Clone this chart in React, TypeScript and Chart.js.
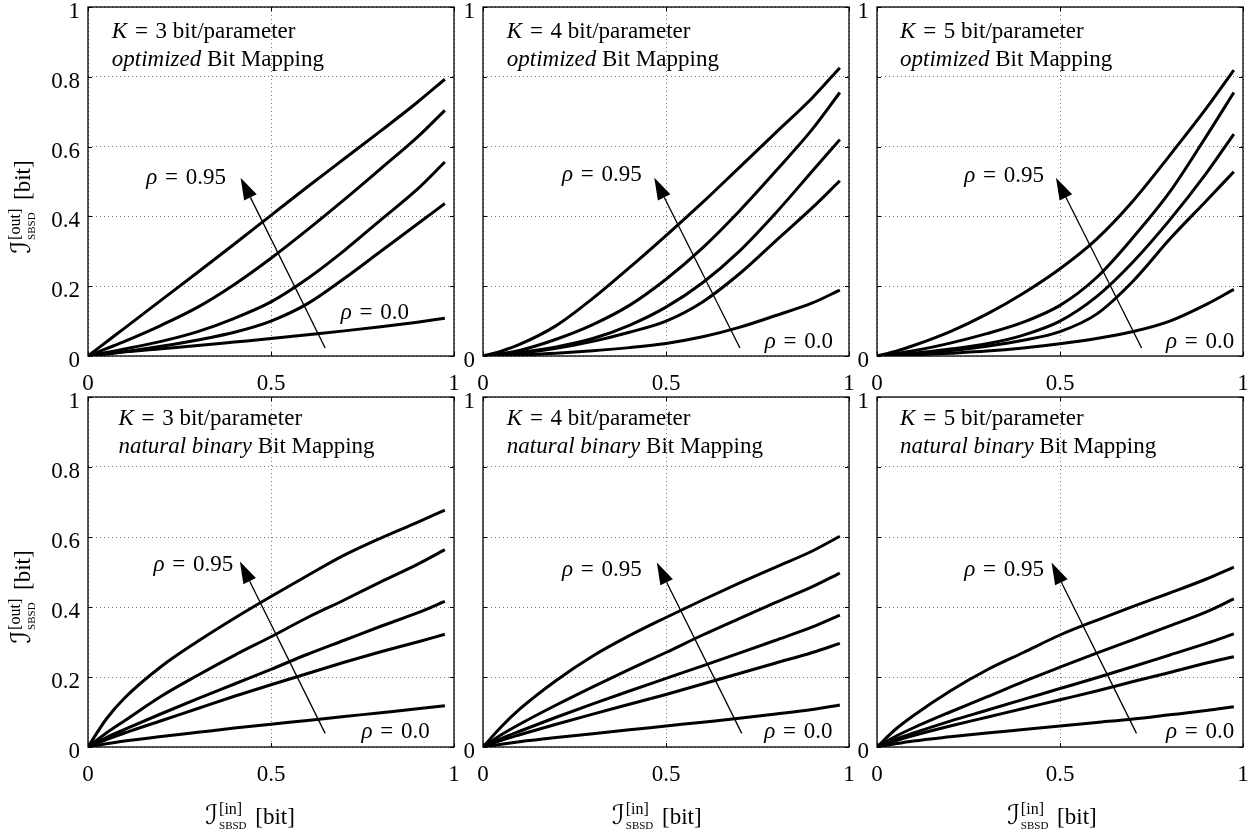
import React, { useEffect, useRef } from 'react';
import { Chart, registerables } from 'chart.js';

Chart.register(...registerables);

// ---------- data ----------
const X_IN = [0, 0.05, 0.1, 0.2, 0.3, 0.4, 0.5, 0.6, 0.7, 0.8, 0.9, 0.975];

// each panel: curves from rho = 0.95 (top) down to rho = 0.0 (bottom)
const K3_OPT = [
  [0, 0.04, 0.08, 0.16, 0.24, 0.321, 0.403, 0.485, 0.565, 0.645, 0.727, 0.793],
  [0, 0.021, 0.042, 0.088, 0.14, 0.205, 0.28, 0.362, 0.448, 0.537, 0.627, 0.704],
  [0, 0.01, 0.02, 0.042, 0.07, 0.108, 0.155, 0.222, 0.302, 0.39, 0.478, 0.556],
  [0, 0.006, 0.012, 0.028, 0.046, 0.068, 0.1, 0.15, 0.222, 0.3, 0.378, 0.437],
  [0, 0.006, 0.012, 0.021, 0.03, 0.04, 0.05, 0.061, 0.072, 0.084, 0.097, 0.108],
];
const K4_OPT = [
  [0, 0.014, 0.033, 0.087, 0.165, 0.253, 0.345, 0.44, 0.54, 0.64, 0.74, 0.826],
  [0, 0.007, 0.016, 0.048, 0.09, 0.145, 0.22, 0.31, 0.415, 0.53, 0.65, 0.755],
  [0, 0.004, 0.01, 0.026, 0.05, 0.088, 0.14, 0.21, 0.3, 0.41, 0.53, 0.62],
  [0, 0.003, 0.008, 0.022, 0.042, 0.068, 0.1, 0.155, 0.235, 0.33, 0.425, 0.502],
  [0, 0.001, 0.003, 0.008, 0.015, 0.024, 0.036, 0.055, 0.082, 0.116, 0.152, 0.189],
];
const K5_OPT = [
  [0, 0.013, 0.03, 0.07, 0.12, 0.18, 0.25, 0.335, 0.445, 0.575, 0.71, 0.819],
  [0, 0.007, 0.015, 0.037, 0.064, 0.097, 0.145, 0.225, 0.34, 0.47, 0.63, 0.755],
  [0, 0.004, 0.008, 0.02, 0.035, 0.06, 0.1, 0.17, 0.27, 0.39, 0.524, 0.636],
  [0, 0.003, 0.006, 0.015, 0.028, 0.045, 0.07, 0.12, 0.215, 0.335, 0.445, 0.528],
  [0, 0.001, 0.003, 0.008, 0.014, 0.023, 0.035, 0.05, 0.07, 0.1, 0.148, 0.191],
];
const K3_NB = [
  [0, 0.08, 0.14, 0.23, 0.302, 0.368, 0.43, 0.49, 0.548, 0.597, 0.642, 0.677],
  [0, 0.04, 0.075, 0.145, 0.205, 0.262, 0.315, 0.37, 0.42, 0.472, 0.522, 0.564],
  [0, 0.027, 0.05, 0.095, 0.138, 0.18, 0.222, 0.265, 0.305, 0.345, 0.383, 0.416],
  [0, 0.021, 0.04, 0.075, 0.11, 0.145, 0.178, 0.21, 0.242, 0.272, 0.3, 0.322],
  [0, 0.009, 0.017, 0.03, 0.042, 0.054, 0.065, 0.076, 0.087, 0.098, 0.109, 0.118],
];
const K4_NB = [
  [0, 0.058, 0.108, 0.19, 0.26, 0.318, 0.37, 0.42, 0.468, 0.514, 0.56, 0.602],
  [0, 0.035, 0.065, 0.12, 0.172, 0.222, 0.27, 0.32, 0.367, 0.413, 0.458, 0.497],
  [0, 0.024, 0.045, 0.085, 0.123, 0.16, 0.196, 0.232, 0.268, 0.305, 0.343, 0.377],
  [0, 0.019, 0.035, 0.065, 0.094, 0.122, 0.15, 0.18, 0.21, 0.24, 0.27, 0.296],
  [0, 0.008, 0.015, 0.027, 0.038, 0.049, 0.06, 0.071, 0.082, 0.094, 0.107, 0.12],
];
const K5_NB = [
  [0, 0.05, 0.09, 0.16, 0.22, 0.27, 0.32, 0.362, 0.402, 0.44, 0.48, 0.514],
  [0, 0.03, 0.055, 0.1, 0.143, 0.187, 0.228, 0.268, 0.307, 0.346, 0.386, 0.423],
  [0, 0.022, 0.04, 0.074, 0.105, 0.136, 0.167, 0.198, 0.23, 0.263, 0.296, 0.323],
  [0, 0.018, 0.033, 0.06, 0.085, 0.11, 0.135, 0.16, 0.187, 0.213, 0.24, 0.258],
  [0, 0.009, 0.017, 0.029, 0.04, 0.05, 0.06, 0.07, 0.08, 0.092, 0.104, 0.115],
];

const PANEL_DATA = [K3_OPT, K4_OPT, K5_OPT, K3_NB, K4_NB, K5_NB];
const K_VALUES = ['3', '4', '5', '3', '4', '5'];
const MAPPINGS = ['optimized', 'optimized', 'optimized', 'natural binary', 'natural binary', 'natural binary'];

const X_TICKS = [0, 0.5, 1];
const X_TICK_LABELS = ['0', '0.5', '1'];
const Y_TICKS = [0, 0.2, 0.4, 0.6, 0.8, 1];
const Y_TICK_LABELS = ['0', '0.2', '0.4', '0.6', '0.8', '1'];
const RHO_HIGH = '0.95';
const RHO_LOW = '0.0';

// ---------- layout (data-space anchors for annotations) ----------
const TITLE_POS = [[0.065, 0.929], [0.065, 0.929], [0.063, 0.929], [0.083, 0.936], [0.065, 0.936], [0.063, 0.936]];
const RHO95_POS = [[0.377, 0.51], [0.434, 0.518], [0.456, 0.515], [0.397, 0.52], [0.434, 0.506], [0.456, 0.506]];
const RHO0_POS = [[0.877, 0.123], [0.956, 0.041], [0.976, 0.041], [0.934, 0.043], [0.955, 0.044], [0.976, 0.044]];
const ARROWS = [
  [0.648, 0.023, 0.417, 0.511],
  [0.702, 0.023, 0.468, 0.511],
  [0.723, 0.023, 0.489, 0.511],
  [0.648, 0.039, 0.415, 0.53],
  [0.707, 0.039, 0.475, 0.527],
  [0.709, 0.039, 0.477, 0.527],
];
const XTITLE_X = [0.443, 0.475, 0.478];

const PLOT_LEFT = [88, 483, 877];
const PLOT_TOP = [7, 397];
const PLOT_W = 366;
const PLOT_H = [349, 350];
const Y_AXIS_W = 88;
const RIGHT_PAD = 14;
const X_AXIS_H = 40;
const BOTTOM_EXTRA = [0, 49];

const SERIF = '"Liberation Serif", "Times New Roman", "DejaVu Serif", serif';
const MATH = '"DejaVu Serif", "DejaVu Sans", "Liberation Serif", serif';
const TXT = 23;

// [text, italic, size, extra gap after (px)]
type Run = [string, boolean, number, number?];

function drawRuns(ctx: CanvasRenderingContext2D, runs: Run[], x: number, y: number, align: 'left' | 'right') {
  const widths = runs.map((r) => {
    ctx.font = `${r[1] ? 'italic ' : ''}${r[2]}px ${SERIF}`;
    return ctx.measureText(r[0]).width + (r[3] || 0);
  });
  const total = widths.reduce((a, b) => a + b, 0);
  let cx = align === 'right' ? x - total : x;
  ctx.textAlign = 'left';
  ctx.textBaseline = 'middle';
  runs.forEach((r, i) => {
    ctx.font = `${r[1] ? 'italic ' : ''}${r[2]}px ${SERIF}`;
    ctx.fillText(r[0], cx, y);
    cx += widths[i];
  });
}

function drawIOLabel(ctx: CanvasRenderingContext2D, sup: string, cx: number, cy: number, rot: boolean) {
  const fI = `italic 27px ${MATH}`;
  const fSup = `16px ${SERIF}`;
  const fSub = `11px ${SERIF}`;
  const fMain = `23px ${SERIF}`;
  ctx.font = fI;
  const wI = ctx.measureText('ℐ').width;
  ctx.font = fSup;
  const wSup = ctx.measureText(sup).width;
  ctx.font = fSub;
  const wSub = ctx.measureText('SBSD').width;
  const wS = Math.max(wSup, wSub) + 3;
  ctx.font = fMain;
  const wB = ctx.measureText(' [bit]').width;
  const total = wI + 1 + wS + wB;
  ctx.save();
  ctx.translate(cx, cy);
  if (rot) ctx.rotate(-Math.PI / 2);
  ctx.textBaseline = 'alphabetic';
  ctx.textAlign = 'left';
  ctx.fillStyle = '#000';
  let x = -total / 2;
  const base = 7;
  ctx.font = fI;
  ctx.fillText('ℐ', x, base);
  x += wI + 1;
  ctx.font = fSup;
  ctx.fillText(sup, x, base - 10);
  ctx.font = fSub;
  ctx.fillText('SBSD', x, base + 5);
  x += wS;
  ctx.font = fMain;
  ctx.fillText(' [bit]', x, base);
  ctx.restore();
}

function makeDecor(p: number) {
  const col = p % 3;
  const row = Math.floor(p / 3);
  return {
    id: 'decor' + p,
    afterDatasetsDraw(chart: any) {
      const { ctx, chartArea: a } = chart;
      const xs = chart.scales.x;
      const ys = chart.scales.y;
      const px = (v: number) => xs.getPixelForValue(v);
      const py = (v: number) => ys.getPixelForValue(v);
      ctx.save();
      ctx.fillStyle = '#000';
      ctx.strokeStyle = '#000';

      // frame
      ctx.lineWidth = 1.3;
      ctx.strokeRect(a.left, a.top, a.right - a.left, a.bottom - a.top);
      // inward ticks
      ctx.lineWidth = 1;
      ctx.beginPath();
      Y_TICKS.forEach((v) => {
        const yy = Math.round(py(v)) + 0.5;
        ctx.moveTo(a.left, yy); ctx.lineTo(a.left + 4, yy);
        ctx.moveTo(a.right, yy); ctx.lineTo(a.right - 4, yy);
      });
      X_TICKS.forEach((v) => {
        const xx = Math.round(px(v)) + 0.5;
        ctx.moveTo(xx, a.bottom); ctx.lineTo(xx, a.bottom - 4);
        ctx.moveTo(xx, a.top); ctx.lineTo(xx, a.top + 4);
      });
      ctx.stroke();

      // panel title
      const [tx, ty] = TITLE_POS[p];
      const lineGap = 28;
      drawRuns(ctx, [['K', true, TXT, 2], [' = ', false, TXT, 2], [K_VALUES[p], false, TXT], [' bit/parameter', false, TXT]], px(tx), py(ty), 'left');
      drawRuns(ctx, [[MAPPINGS[p], true, TXT], [' Bit Mapping', false, TXT]], px(tx), py(ty) + lineGap, 'left');

      // rho labels
      const [hx, hy] = RHO95_POS[p];
      drawRuns(ctx, [['ρ', true, TXT, 2], [' = ', false, TXT, 2], [RHO_HIGH, false, TXT]], px(hx), py(hy), 'right');
      const [lx, ly] = RHO0_POS[p];
      drawRuns(ctx, [['ρ', true, TXT, 2], [' = ', false, TXT, 2], [RHO_LOW, false, TXT]], px(lx), py(ly), 'right');

      // arrow
      const [x0, y0, x1, y1] = ARROWS[p];
      const sx = px(x0), sy = py(y0), ex = px(x1), ey = py(y1);
      const ang = Math.atan2(ey - sy, ex - sx);
      const L = 22, Wd = 7;
      const bx = ex - L * Math.cos(ang), by = ey - L * Math.sin(ang);
      ctx.lineWidth = 1.3;
      ctx.beginPath();
      ctx.moveTo(sx, sy);
      ctx.lineTo(bx, by);
      ctx.stroke();
      ctx.beginPath();
      ctx.moveTo(ex, ey);
      ctx.lineTo(bx + Wd * Math.sin(ang), by - Wd * Math.cos(ang));
      ctx.lineTo(bx - Wd * Math.sin(ang), by + Wd * Math.cos(ang));
      ctx.closePath();
      ctx.fill();

      // axis titles
      if (col === 0) drawIOLabel(ctx, '[out]', 23, a.top + 200, true);
      if (row === 1) drawIOLabel(ctx, '[in]', px(XTITLE_X[col]), a.bottom + 70, false);
      ctx.restore();
    },
  };
}

function Panel({ p }: { p: number }) {
  const ref = useRef<HTMLCanvasElement>(null);
  const col = p % 3;
  const row = Math.floor(p / 3);
  const W = Y_AXIS_W + PLOT_W + RIGHT_PAD;
  const H = PLOT_TOP[0] + PLOT_H[row] + X_AXIS_H + BOTTOM_EXTRA[row];
  const left = PLOT_LEFT[col] - Y_AXIS_W;
  const top = PLOT_TOP[row] - PLOT_TOP[0];

  useEffect(() => {
    if (!ref.current) return;
    const tickFont = { family: SERIF, size: 23 };
    const chart = new Chart(ref.current, {
      type: 'line',
      data: {
        datasets: PANEL_DATA[p].map((curve) => ({
          data: X_IN.map((x, i) => ({ x, y: curve[i] })),
          borderColor: '#000',
          borderWidth: 3,
          pointRadius: 0,
          fill: false,
          cubicInterpolationMode: 'monotone' as const,
        })),
      },
      options: {
        animation: false,
        responsive: false,
        devicePixelRatio: 1,
        events: [],
        layout: { padding: { left: 0, top: PLOT_TOP[0], right: RIGHT_PAD, bottom: BOTTOM_EXTRA[row] } },
        plugins: { legend: { display: false }, tooltip: { enabled: false }, title: { display: false } },
        scales: {
          x: {
            type: 'linear',
            min: 0,
            max: 1,
            afterBuildTicks: (s: any) => { s.ticks = X_TICKS.map((v) => ({ value: v })); },
            ticks: {
              font: tickFont,
              color: '#000',
              padding: 14,
              maxRotation: 0,
              autoSkip: false,
              callback: (v: any) => {
                const i = X_TICKS.findIndex((t) => Math.abs(t - Number(v)) < 1e-6);
                return i >= 0 ? X_TICK_LABELS[i] : '';
              },
            },
            grid: { color: '#777', lineWidth: 1, drawTicks: false },
            border: { display: false, dash: [1, 3] },
            afterFit: (s: any) => { s.height = X_AXIS_H; s.paddingLeft = 0; s.paddingRight = 0; },
          },
          y: {
            type: 'linear',
            min: 0,
            max: 1,
            afterBuildTicks: (s: any) => { s.ticks = Y_TICKS.map((v) => ({ value: v })); },
            ticks: {
              font: tickFont,
              color: '#000',
              padding: 8,
              labelOffset: 5,
              autoSkip: false,
              callback: (v: any) => {
                const i = Y_TICKS.findIndex((t) => Math.abs(t - Number(v)) < 1e-6);
                if (i < 0) return '';
                if (col > 0 && i !== 0 && i !== Y_TICKS.length - 1) return '';
                return Y_TICK_LABELS[i];
              },
            },
            grid: { color: '#777', lineWidth: 1, drawTicks: false },
            border: { display: false, dash: [1, 3] },
            afterFit: (s: any) => { s.width = Y_AXIS_W; s.paddingTop = 0; s.paddingBottom = 0; },
          },
        },
      },
      plugins: [makeDecor(p)],
    } as any);
    return () => chart.destroy();
  }, [p]);

  return (
    <canvas
      ref={ref}
      width={W}
      height={H}
      style={{ position: 'absolute', left, top, width: W, height: H }}
    />
  );
}

export default function App() {
  return (
    <div style={{ position: 'absolute', left: 0, top: 0, width: 1257, height: 836, background: '#fff', overflow: 'hidden' }}>
      {[0, 1, 2, 3, 4, 5].map((p) => (
        <Panel key={p} p={p} />
      ))}
    </div>
  );
}
